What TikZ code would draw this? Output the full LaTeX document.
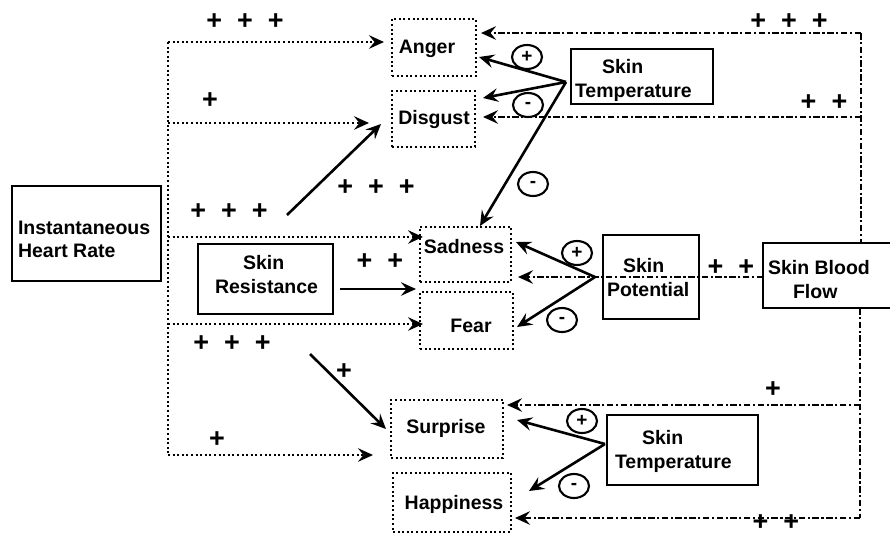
\documentclass[tikz,border=0pt]{standalone}
\usepackage{fontspec}
\setmainfont{Liberation Sans}
\usetikzlibrary{arrows.meta,shapes.geometric}
\begin{document}
\begin{tikzpicture}[x=1pt,y=-1pt,
  every node/.style={inner sep=0pt,outer sep=0pt},
  lab/.style={font=\bfseries\fontsize{19.5}{22}\selectfont},
  plusgrp/.style={font=\bfseries\fontsize{27}{27}\selectfont},
  solidbox/.style={draw,line width=2.7pt},
  dotbox/.style={draw,line width=2.4pt,dash pattern=on 2pt off 2.6pt},
  tip/.style={-{Stealth[length=15pt,width=13.5pt,inset=5.5pt]}},
  solidarr/.style={line width=2.6pt,tip},
  dotline/.style={line width=2.4pt,dash pattern=on 2pt off 2.6pt},
  dotarr/.style={dotline,tip},
  dashdot/.style={line width=2.4pt,dash pattern=on 6.5pt off 2.5pt on 2.2pt off 2.5pt},
  ddarr/.style={dashdot,tip},
  sign/.style={draw,ellipse,line width=2.1pt,minimum width=30pt,minimum height=24pt,font=\bfseries\fontsize{19}{19}\selectfont}
]
\useasboundingbox (0,0) rectangle (890,536);

% solid boxes
\node[solidbox,minimum width=149pt,minimum height=95pt] (hr) at (86.5,233.5) {};
\node[solidbox,minimum width=142pt,minimum height=55pt] (st1) at (642,76.5) {};
\node[solidbox,minimum width=135pt,minimum height=70pt] (sr) at (265.5,279) {};
\node[solidbox,minimum width=96pt,minimum height=84pt] (sp) at (651,277) {};
\node[solidbox,minimum width=151pt,minimum height=70pt] (st2) at (682.5,450) {};
\begin{scope}
\clip (0,0) rectangle (890,536);
\node[solidbox,minimum width=142pt,minimum height=65pt] (sbf) at (834,275.5) {};
\end{scope}

% dotted emotion boxes
\node[dotbox,minimum width=84pt,minimum height=57pt] (anger) at (434,47.5) {};
\node[dotbox,minimum width=83pt,minimum height=56pt] (disgust) at (433.5,119) {};
\node[dotbox,minimum width=91pt,minimum height=55pt] (sadness) at (465.5,254.5) {};
\node[dotbox,minimum width=93pt,minimum height=57pt] (fear) at (466.5,320.5) {};
\node[dotbox,minimum width=112pt,minimum height=58pt] (surprise) at (447,429) {};
\node[dotbox,minimum width=118pt,minimum height=59pt] (happiness) at (452,502.5) {};

% box texts
\node[lab,anchor=base west] (thr1) at (18,234) {Instantaneous};
\node[lab,anchor=base west] (thr2) at (18,257) {Heart Rate};
\node[lab,anchor=base west] (tst1a) at (602,73) {Skin};
\node[lab,anchor=base west] (tst1b) at (575,97) {Temperature};
\node[lab,anchor=base west] (tsra) at (243,269) {Skin};
\node[lab,anchor=base west] (tsrb) at (215,293) {Resistance};
\node[lab,anchor=base west] (tspa) at (623,272) {Skin};
\node[lab,anchor=base west] (tspb) at (607,296) {Potential};
\node[lab,anchor=base west] (tsbfa) at (768,274) {Skin Blood};
\node[lab,anchor=base west] (tsbfb) at (793,298) {Flow};
\node[lab,anchor=base west] (tst2a) at (642,444) {Skin};
\node[lab,anchor=base west] (tst2b) at (615,468) {Temperature};
\node[lab,anchor=base] (tanger) at (427,53) {Anger};
\node[lab,anchor=base] (tdisgust) at (434,124) {Disgust};
\node[lab,anchor=base] (tsadness) at (464,253) {Sadness};
\node[lab,anchor=base] (tfear) at (471,332) {Fear};
\node[lab,anchor=base] (tsurprise) at (446,433) {Surprise};
\node[lab,anchor=base] (thappiness) at (454,509) {Happiness};

% left dotted tree (heart rate)
\coordinate (v1) at (168,42);
\coordinate (v2) at (168,123);
\coordinate (v3) at (168,237);
\coordinate (v4) at (168,324);
\coordinate (v5) at (168,455);
\draw[dotline] (v1) -- (v5);
\draw[dotarr] (v1) -- (384,42);
\draw[dotarr] (v2) -- (369,123);
\draw[dotarr] (v3) -- (423,237);
\draw[dotarr] (v4) -- (423,324);
\draw[dotarr] (v5) -- (373,455);

% solid arrows from heart rate / resistance
\coordinate (hrs1) at (287,215);
\coordinate (hrs2) at (310,354);
\draw[solidarr] (hrs1) -- (381,124);
\draw[solidarr] (sr.east) ++(7,10) coordinate (sro) -- (416,289);
\draw[solidarr] (hrs2) -- (386,429);

% skin temperature (top)
\coordinate (c1) at (566,82);
\draw[solidarr] (c1) -- (479,57);
\draw[solidarr] (c1) -- (483,98);
\draw[solidarr] (c1) -- (480,226);

% skin potential
\coordinate (c2) at (595,277);
\draw[solidarr] (c2) -- (516,242);
\draw[solidarr] (c2) -- (517,327);

% skin temperature (bottom)
\coordinate (c3) at (605,444);
\draw[solidarr] (c3) -- (517,420);
\draw[solidarr] (c3) -- (529,491);

% skin blood flow dash-dot lines
\coordinate (r1) at (861,33);
\coordinate (r2) at (861,117);
\coordinate (r3) at (860,405);
\coordinate (r4) at (860,518);
\draw[dashdot] (r1) -- (sbf.north -| r1);
\draw[dashdot] (sbf.south -| r3) -- (r4);
\draw[ddarr] (r1) -- (481,33);
\draw[ddarr] (r2) -- (483,117);
\draw[ddarr] (r3) -- (507,405);
\draw[ddarr] (r4) -- (515,518);
\draw[ddarr] (sbf.west |- c2) -- (518,277);

% sign circles
\node[sign] (s1) at (527,57) {+};
\node[sign] (s2) at (528,105) {-};
\node[sign] (s3) at (533,184) {-};
\node[sign] (s4) at (577,253) {+};
\node[sign] (s5) at (562,320) {-};
\node[sign] (s6) at (582,421) {+};
\node[sign] (s7) at (574,486) {-};

% plus groups
\node[plusgrp] (p1) at (245,22) {+\hskip15pt+\hskip15pt+};
\node[plusgrp] (p2) at (210,101) {+};
\node[plusgrp] (p3) at (229,212) {+\hskip15pt+\hskip15pt+};
\node[plusgrp] (p4) at (376,188) {+\hskip15pt+\hskip15pt+};
\node[plusgrp] (p5) at (380,262) {+\hskip15pt+};
\node[plusgrp] (p6) at (232,344) {+\hskip15pt+\hskip15pt+};
\node[plusgrp] (p7) at (344,372) {+};
\node[plusgrp] (p8) at (217,440) {+};
\node[plusgrp] (p9) at (789,22) {+\hskip15pt+\hskip15pt+};
\node[plusgrp] (p10) at (824,103) {+\hskip15pt+};
\node[plusgrp] (p11) at (731,268) {+\hskip15pt+};
\node[plusgrp] (p12) at (773,390) {+};
\node[plusgrp] (p13) at (776,523) {+\hskip15pt+};
\end{tikzpicture}
\end{document}
